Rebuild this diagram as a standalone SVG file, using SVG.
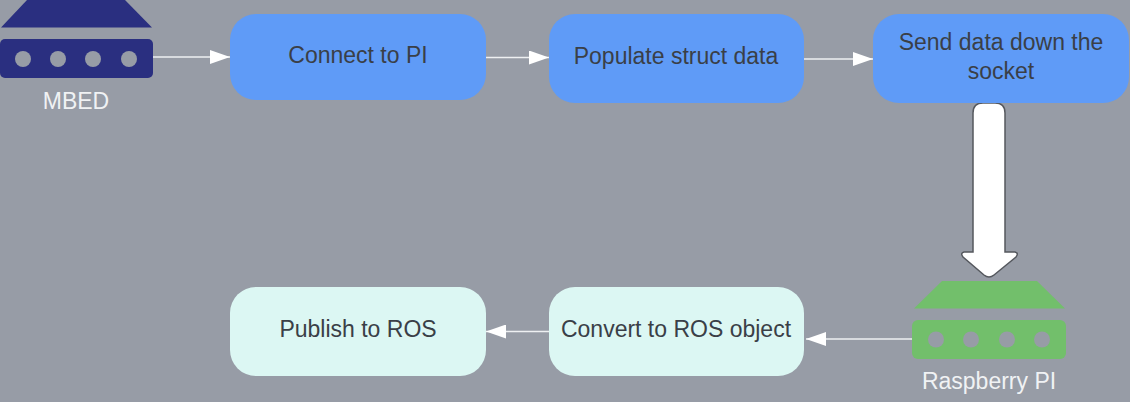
<svg xmlns="http://www.w3.org/2000/svg" width="1130" height="402" viewBox="0 0 1130 402">
<style>
text{font-family:"Liberation Sans",Arial,sans-serif;font-size:23px;fill:#3a3f47;text-anchor:middle}
.lbl{fill:#f0f2f4}
.blue{fill:#5f9bf7}
.mint{fill:#dcf7f3}
.hole{fill:#979ca6}
.navy{fill:#2a2f80}
.green{fill:#72bf6b}
.conn{stroke:#eef0f2;stroke-width:1.6;fill:none}
</style>
<defs>
<marker id="ah" markerUnits="userSpaceOnUse" markerWidth="21" markerHeight="14" refX="20" refY="7" orient="auto"><path d="M0 0L20 7L0 14Z" fill="#fff"/></marker>
</defs>
<rect width="1130" height="402" fill="#979ca6"/>
<g id="connectors">
<path class="conn" d="M153 57H230" marker-end="url(#ah)"/>
<path class="conn" d="M486 57.500H549" marker-end="url(#ah)"/>
<path class="conn" d="M804 59H873" marker-end="url(#ah)"/>
<path class="conn" d="M912 339H806" marker-end="url(#ah)"/>
<path class="conn" d="M549 331.500H486" marker-end="url(#ah)"/>
<path id="big-arrow" d="M983 103H995Q1005 103 1005 113V252H1015Q1019 253 1016 257L994 275Q989 279 984 275L963 257Q960 253 964 252H973V113Q973 103 983 103Z" fill="#fff" stroke="#55585e" stroke-width="1.500"/>
</g>
<g id="mbed">
<path class="navy" d="M27 0H125L152 27.500H1Z"/>
<rect class="navy" x="0" y="39" width="153" height="39" rx="5"/>
<circle class="hole" cx="23" cy="59" r="8"/><circle class="hole" cx="58" cy="59" r="8"/><circle class="hole" cx="93" cy="59" r="8"/><circle class="hole" cx="129" cy="59" r="8"/>
<text class="lbl" x="76" y="109">MBED</text>
</g>
<g id="connect"><rect class="blue" x="230" y="14" width="256" height="86" rx="26"/><text x="358" y="63">Connect to PI</text></g>
<g id="populate"><rect class="blue" x="549" y="14" width="255" height="89" rx="26"/><text x="676" y="64">Populate struct data</text></g>
<g id="send"><rect class="blue" x="873" y="14" width="256" height="89" rx="26"/><text x="1001" y="50">Send data down the</text><text x="1001" y="79">socket</text></g>
<g id="raspberry">
<path class="green" d="M942 281H1037L1065 308.500H914Z"/>
<rect class="green" x="912" y="320" width="154" height="39" rx="6"/>
<circle class="hole" cx="936" cy="339.500" r="8"/><circle class="hole" cx="971" cy="339.500" r="8"/><circle class="hole" cx="1007" cy="339.500" r="8"/><circle class="hole" cx="1042" cy="339.500" r="8"/>
<text class="lbl" x="989" y="389">Raspberry PI</text>
</g>
<g id="convert"><rect class="mint" x="549" y="287" width="255" height="89" rx="26"/><text x="676" y="337">Convert to ROS object</text></g>
<g id="publish"><rect class="mint" x="230" y="287" width="256" height="89" rx="26"/><text x="358" y="337">Publish to ROS</text></g>
</svg>
